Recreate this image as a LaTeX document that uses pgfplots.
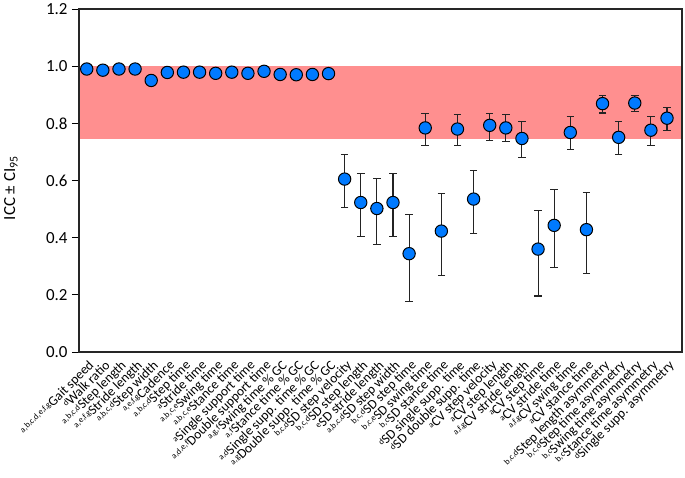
\documentclass[border=0pt]{standalone}
\usepackage{pgfplots}
\usepackage{pgfplotstable}
\pgfplotsset{compat=1.18}
\usepackage{fontspec}
\setmainfont{Carlito}
\definecolor{band}{RGB}{255,143,143}
\definecolor{dot}{RGB}{0,122,255}
\definecolor{ebar}{RGB}{35,35,35}
\newcommand\sps[1]{\raisebox{0.45ex}{\fontsize{8.5}{9}\selectfont #1}}

\pgfplotstableread{
x y ep em
0 0.990 0.003 0.003
1 0.986 0.003 0.003
2 0.990 0.003 0.003
3 0.990 0.003 0.003
4 0.950 0.005 0.005
5 0.978 0.003 0.003
6 0.979 0.003 0.003
7 0.979 0.003 0.003
8 0.975 0.003 0.003
9 0.979 0.003 0.003
10 0.975 0.003 0.003
11 0.982 0.003 0.003
12 0.971 0.003 0.003
13 0.970 0.003 0.003
14 0.971 0.003 0.003
15 0.974 0.003 0.003
16 0.605 0.086 0.101
17 0.523 0.101 0.118
18 0.502 0.105 0.126
19 0.523 0.101 0.118
20 0.344 0.138 0.168
21 0.784 0.051 0.061
22 0.423 0.130 0.156
23 0.780 0.051 0.059
24 0.535 0.101 0.122
25 0.793 0.042 0.052
26 0.784 0.047 0.048
27 0.747 0.059 0.065
28 0.360 0.136 0.164
29 0.443 0.126 0.146
30 0.768 0.056 0.061
31 0.428 0.130 0.152
32 0.869 0.028 0.033
33 0.751 0.055 0.059
34 0.871 0.026 0.031
35 0.776 0.048 0.055
36 0.818 0.038 0.043
}\icc

\begin{document}
\begin{tikzpicture}
\useasboundingbox (-79bp,-126bp) rectangle (606bp,352bp);
\begin{axis}[
  scale only axis,
  width=603bp, height=343bp,
  xmin=-0.48, xmax=36.93,
  ymin=0, ymax=1.2,
  ytick={0,0.2,...,1.2},
  yticklabel style={/pgf/number format/fixed,/pgf/number format/fixed zerofill,/pgf/number format/precision=1,font=\fontsize{17}{19}\selectfont, xshift=-1bp},
  /pgf/number format/assume math mode=true,
  tick align=outside,
  major tick length=7bp,
  ytick pos=left,
  xtick={0,...,36},
  x tick style={draw=none},
  xticklabel style={rotate=45, anchor=north east, font=\fontsize{13.5}{15}\selectfont, inner sep=1pt, xshift=1.5bp},
  xticklabels={
    {\sps{a,b,c,d,e,f,g}Gait speed},
    {\sps{d}Walk ratio},
    {\sps{a,b,c,d}Step length},
    {\sps{a,e,f,g}Stride length},
    {\sps{a,b,c,d}Step width},
    {\sps{a,e,f,g}Cadence},
    {\sps{a,b,c,d}Step time},
    {\sps{a}Stride time},
    {\sps{a,b,c,e}Swing time},
    {\sps{a,b,c,e}Stance time},
    {\sps{a}Single support time},
    {\sps{a,d,e,f}Double support time},
    {\sps{a,g,f}Swing time \% GC},
    {\sps{a,f}Stance time \% GC},
    {\sps{a,d}Single supp. time \% GC},
    {\sps{a,g}Double supp. time \% GC},
    {\sps{b,c,d}SD step velocity},
    {\sps{b,c,d}SD step length},
    {\sps{e}SD stride length},
    {\sps{a,b,c,d}SD step width},
    {\sps{b,c,d}SD step time},
    {\sps{b,c,e}SD swing time},
    {\sps{b,c}SD stance time},
    {\sps{d}SD single supp. time},
    {\sps{d}SD double supp. time},
    {\sps{a}CV step velocity},
    {\sps{a}CV step length},
    {\sps{a,f,g}CV stride length},
    {\sps{a}CV step time},
    {\sps{a}CV stride time},
    {\sps{a,f,g}CV swing time},
    {\sps{a}CV stance time},
    {\sps{b,c,d}Step length asymmetry},
    {\sps{b,c,d}Step time asymmetry},
    {\sps{b,c}Swing time asymmetry},
    {\sps{b,c}Stance time asymmetry},
    {\sps{d}Single supp. asymmetry}
  },
  ylabel={ICC ± CI\textsubscript{95}},
  ylabel style={at={(axis description cs:-0.113,0.478)}, anchor=center, font=\fontsize{17}{19}\selectfont},
  axis line style={line width=1.2pt, black!85},
  every tick/.style={black, line width=0.9pt},
  axis on top,
  clip=false,
]
\addplot[fill=band, draw=none, forget plot] coordinates {(-0.48,0.745) (36.93,0.745) (36.93,1.0) (-0.48,1.0)} -- cycle;
\addplot[only marks, mark=*, mark size=6.2pt,
  mark options={fill=dot, draw=black, line width=1pt},
  error bars/.cd, y dir=both, y explicit,
  error bar style={ebar, line width=1.1pt},
  error mark options={ebar, line width=1.1pt, mark size=3.8pt, rotate=90}]
  table[x=x, y=y, y error plus=ep, y error minus=em] {\icc};
\end{axis}
\end{tikzpicture}
\end{document}
